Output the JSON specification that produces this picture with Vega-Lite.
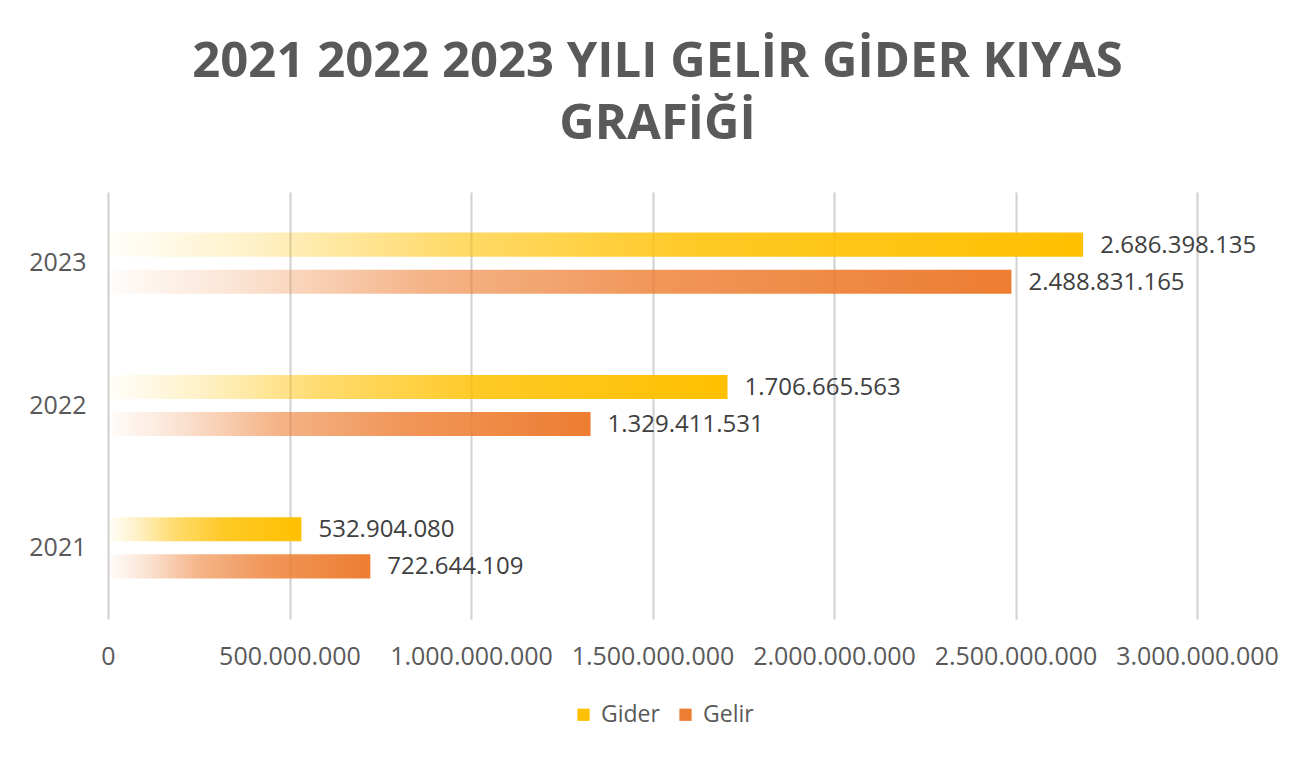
{
  "$schema": "https://vega.github.io/schema/vega-lite/v6.json",
  "width": 1089,
  "height": 427,
  "autosize": {"type": "none"},
  "padding": {"left": 108, "top": 192, "right": 113, "bottom": 140},
  "background": "white",
  "title": {
    "text": ["2021 2022 2023 YILI GELİR GİDER KIYAS", "GRAFİĞİ"],
    "font": "Open Sans",
    "fontSize": 49,
    "fontWeight": "bold",
    "color": "#595959",
    "lineHeight": 62,
    "anchor": "middle",
    "frame": "group",
    "offset": 43,
    "dx": 5
  },
  "config": {
    "font": "Open Sans",
    "locale": {"number": {"decimal": ",", "thousands": ".", "grouping": [3], "currency": ["", " TL"]}},
    "view": {"stroke": null}
  },
  "data": {
    "values": [
      {"year": "2023", "series": "Gider", "value": 2686398135},
      {"year": "2023", "series": "Gelir", "value": 2488831165},
      {"year": "2022", "series": "Gider", "value": 1706665563},
      {"year": "2022", "series": "Gelir", "value": 1329411531},
      {"year": "2021", "series": "Gider", "value": 532904080},
      {"year": "2021", "series": "Gelir", "value": 722644109}
    ]
  },
  "encoding": {
    "y": {
      "field": "year",
      "type": "nominal",
      "sort": ["2023", "2022", "2021"],
      "scale": {"paddingInner": 0.57, "paddingOuter": 0.285},
      "axis": {
        "title": null,
        "ticks": false,
        "domain": false,
        "labelFontSize": 25,
        "labelColor": "#595959",
        "labelPadding": 22
      }
    },
    "yOffset": {
      "field": "series",
      "type": "nominal",
      "sort": ["Gider", "Gelir"],
      "scale": {"paddingInner": 0.35, "paddingOuter": 0}
    },
    "x": {
      "field": "value",
      "type": "quantitative",
      "scale": {"domain": [0, 3000000000], "nice": false},
      "axis": {
        "title": null,
        "values": [0, 500000000, 1000000000, 1500000000, 2000000000, 2500000000, 3000000000],
        "format": ",d",
        "ticks": false,
        "domain": false,
        "grid": true,
        "gridColor": "#d0d0d0",
        "gridWidth": 2,
        "labelFontSize": 25,
        "labelColor": "#595959",
        "labelPadding": 25,
        "labelFlush": false
      }
    }
  },
  "layer": [
    {
      "mark": {"type": "bar"},
      "encoding": {
        "fill": {
          "condition": {
            "test": "datum.series === 'Gider'",
            "value": {"gradient": "linear", "x1": 0, "y1": 0, "x2": 1, "y2": 0, "stops": [
              {"offset": 0, "color": "rgba(255,192,0,0.02)"},
              {"offset": 0.15, "color": "rgba(255,192,0,0.22)"},
              {"offset": 0.35, "color": "rgba(255,192,0,0.58)"},
              {"offset": 0.6, "color": "rgba(255,192,0,0.85)"},
              {"offset": 1, "color": "rgba(255,192,0,1)"}
            ]}
          },
          "value": {"gradient": "linear", "x1": 0, "y1": 0, "x2": 1, "y2": 0, "stops": [
            {"offset": 0, "color": "rgba(237,125,49,0.02)"},
            {"offset": 0.15, "color": "rgba(237,125,49,0.22)"},
            {"offset": 0.35, "color": "rgba(237,125,49,0.58)"},
            {"offset": 0.6, "color": "rgba(237,125,49,0.8)"},
            {"offset": 1, "color": "rgba(237,125,49,1)"}
          ]}
        }
      }
    },
    {
      "mark": {"type": "square", "opacity": 0, "filled": true},
      "encoding": {
        "color": {
          "field": "series",
          "type": "nominal",
          "sort": ["Gider", "Gelir"],
          "scale": {"domain": ["Gider", "Gelir"], "range": ["#FFC000", "#ED7D31"]},
          "legend": {
            "orient": "none",
            "legendX": 464,
            "legendY": 511,
            "title": null,
            "direction": "horizontal",
            "symbolType": "square",
            "symbolSize": 150,
            "symbolOpacity": 1,
            "labelFontSize": 23,
            "labelColor": "#595959",
            "labelOffset": 6,
            "columnPadding": 14
          }
        }
      }
    },
    {
      "mark": {"type": "text", "align": "left", "baseline": "middle", "dx": 17, "dy": 1, "fontSize": 24, "color": "#404040"},
      "encoding": {
        "text": {"field": "value", "type": "quantitative", "format": ",d"}
      }
    }
  ]
}
